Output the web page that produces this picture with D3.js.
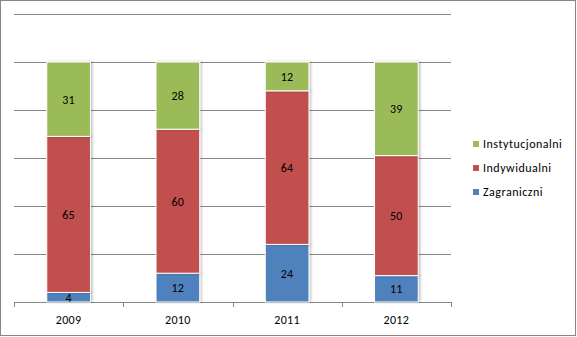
<!DOCTYPE html>
<html><head><meta charset="utf-8">
<script src="https://cdn.jsdelivr.net/npm/d3@7"></script>
<style>body{margin:0;background:#fff}svg{display:block}</style>
</head><body>
<svg id="c" width="577" height="337"></svg>
<script>
const categories = ["2009","2010","2011","2012"];
const seriesNames = ["Zagraniczni","Indywidualni","Instytucjonalni"];
const zagraniczni = [4,12,24,11];
const indywidualni = [65,60,64,50];
const instytucjonalni = [31,28,12,39];
const colors = ["#4F81BD","#C0504D","#9BBB59"];
const yTicks = [0,20,40,60,80,100,120];

(function(){
const svg = d3.select("#c");
const font = "Carlito, Lato, 'Liberation Sans', sans-serif";
svg.append("rect").attr("x",0.5).attr("y",0.5).attr("width",575).attr("height",335)
  .attr("fill","#fff").attr("stroke","#868686").attr("stroke-width",1);

const pL=14, pR=451, pT=14, pB=302;
const x = d3.scaleBand().domain(categories).range([pL,pR]).paddingInner(0.6).paddingOuter(0.3);
const xb = d3.scaleBand().domain(categories).range([pL,pR]);
const y = d3.scaleLinear().domain([0,120]).range([pB,pT]);

const grid = svg.append("g");
yTicks.forEach(t=>{
  grid.append("line").attr("x1",pL).attr("x2",pR)
    .attr("y1",Math.round(y(t))+0.5).attr("y2",Math.round(y(t))+0.5)
    .attr("stroke","#868686").attr("stroke-width",1);
});
const tickXs = categories.map(c=>xb(c)).concat([pR]);
tickXs.forEach(tx=>{
  svg.append("line").attr("x1",Math.round(tx)+0.5).attr("x2",Math.round(tx)+0.5)
    .attr("y1",pB).attr("y2",pB+5).attr("stroke","#868686");
});

const data = categories.map((c,i)=>({cat:c, Zagraniczni:zagraniczni[i], Indywidualni:indywidualni[i], Instytucjonalni:instytucjonalni[i]}));
const stack = d3.stack().keys(seriesNames)(data);

const defs = svg.append("defs");
const f = defs.append("filter").attr("id","sh").attr("x","-10%").attr("y","-10%").attr("width","130%").attr("height","130%");
f.append("feDropShadow").attr("dx",1.5).attr("dy",0).attr("stdDeviation",1.2).attr("flood-color","#000").attr("flood-opacity",0.25);

stack.forEach((s,si)=>{
  const g = svg.append("g");
  g.selectAll("rect").data(s).join("rect")
    .attr("x",d=>x(d.data.cat)).attr("width",x.bandwidth())
    .attr("y",d=>y(d[1])).attr("height",d=>y(d[0])-y(d[1]))
    .attr("fill",colors[si]).attr("stroke","#fff").attr("stroke-width",1)
    .attr("filter","url(#sh)");
});
stack.forEach((s,si)=>{
  svg.append("g").selectAll("text").data(s).join("text")
    .attr("x",d=>x(d.data.cat)+x.bandwidth()/2)
    .attr("y",d=>(y(d[0])+y(d[1]))/2)
    .attr("dy","0.36em").attr("text-anchor","middle")
    .attr("font-family",font).attr("font-size",12).attr("letter-spacing",0.4).attr("fill","#000")
    .text(d=>d[1]-d[0]);
});

svg.append("g").selectAll("text").data(categories).join("text")
  .attr("x",c=>xb(c)+xb.bandwidth()/2).attr("y",320).attr("dy","0.36em")
  .attr("text-anchor","middle").attr("font-family",font).attr("font-size",12).attr("letter-spacing",0.4).attr("fill","#000")
  .text(c=>c);

const legendOrder = [2,1,0];
legendOrder.forEach((si,i)=>{
  const ly = 144 + i*24;
  svg.append("rect").attr("x",473).attr("y",ly-3).attr("width",6).attr("height",6).attr("fill",colors[si]);
  svg.append("text").attr("x",483).attr("y",ly).attr("dy","0.36em")
    .attr("font-family",font).attr("font-size",12).attr("letter-spacing",0.5).attr("fill","#000").text(seriesNames[si]);
});
})();
</script>
</body></html>
